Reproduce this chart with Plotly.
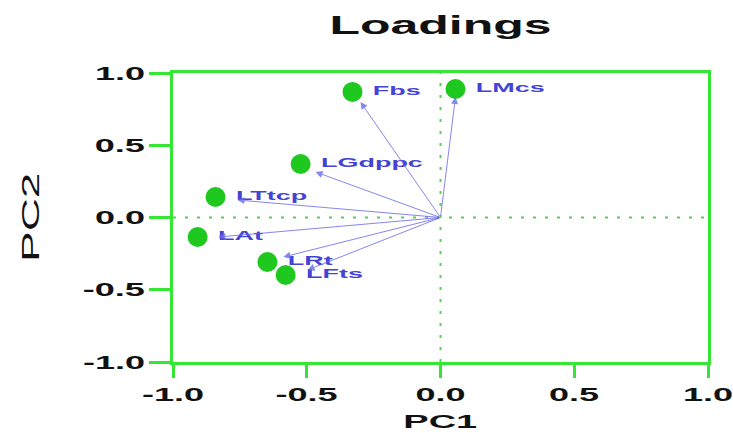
import plotly.graph_objects as go

# ---- data ----
variables = ["Fbs", "LMcs", "LGdppc", "LTtcp", "LAt", "LRt", "LFts"]
pc1_point = [-0.329, 0.056, -0.523, -0.841, -0.908, -0.647, -0.579]
pc2_point = [0.869, 0.889, 0.370, 0.142, -0.135, -0.308, -0.398]
pc1_arrow = [-0.299, 0.056, -0.467, -0.759, -0.830, -0.587, -0.497]
pc2_arrow = [0.799, 0.834, 0.315, 0.121, -0.135, -0.273, -0.363]
tick_vals = [-1.0, -0.5, 0.0, 0.5, 1.0]
tick_text = ["-1.0", "-0.5", "0.0", "0.5", "1.0"]

GREEN_AX = "#35e635"
GREEN_PT = "#1fc81f"
GREEN_DOT = "#4cd84c"
BLUE_TXT = "#4444d4"
BLUE_ARR = "rgba(105,105,235,0.8)"
FONT = "Liberation Sans, Arial, sans-serif"

fig = go.Figure()

# green loading points
fig.add_trace(go.Scatter(
    x=pc1_point, y=pc2_point, mode="markers",
    marker=dict(size=20, color=GREEN_PT, line=dict(width=0)),
    hoverinfo="skip", showlegend=False))

# labels
fig.add_trace(go.Scatter(
    x=pc1_point, y=pc2_point, mode="markers+text",
    text=variables, textposition="middle right",
    textfont=dict(family=FONT, size=13.5, color=BLUE_TXT, weight="bold"),
    marker=dict(size=31, opacity=0),
    hoverinfo="skip", showlegend=False))

# dotted zero lines
fig.add_shape(type="line", x0=0, x1=0, y0=-1, y1=1, xref="x", yref="y",
              line=dict(color=GREEN_DOT, width=2, dash="3px,9px"), layer="below")
fig.add_shape(type="line", x0=-1, x1=1, y0=0, y1=0, xref="x", yref="y",
              line=dict(color=GREEN_DOT, width=2, dash="3px,9px"), layer="below")

# arrows from origin
for xa, ya in zip(pc1_arrow, pc2_arrow):
    fig.add_annotation(x=xa, y=ya, ax=0, ay=0, xref="x", yref="y",
                       axref="x", ayref="y", text="", showarrow=True,
                       arrowhead=2, arrowsize=1.4, arrowwidth=1,
                       arrowcolor=BLUE_ARR, standoff=0, startstandoff=0)

# axis titles
fig.add_annotation(text="<b>PC1</b>", xref="paper", yref="paper", x=0.5, y=-0.205,
                   xanchor="center", yanchor="middle", showarrow=False,
                   font=dict(family=FONT, size=19, color="#111111"))
fig.add_annotation(text="PC2", xref="paper", yref="paper", x=-0.267, y=0.5,
                   xanchor="center", yanchor="middle", textangle=-90, showarrow=False,
                   font=dict(family=FONT, size=23, color="#111111"))

axis_common = dict(
    range=[-1, 1], tickmode="array", tickvals=tick_vals, ticktext=tick_text,
    showline=True, linecolor=GREEN_AX, linewidth=3, mirror=True,
    ticks="outside", tickcolor=GREEN_AX, tickwidth=3,
    showgrid=False, zeroline=False,
    tickfont=dict(family=FONT, size=19, color="#111111", weight="bold"),
)

fig.update_layout(
    width=733, height=433,
    margin=dict(l=173, r=25, t=73, b=71),
    paper_bgcolor="white", plot_bgcolor="white",
    title=dict(text="<b>Loadings</b>", x=0.5, xref="paper", xanchor="center",
               y=1 - 25 / 433, yref="container", yanchor="middle",
               font=dict(family=FONT, size=25, color="#111111")),
    xaxis=dict(**axis_common, ticklen=13),
    yaxis=dict(**axis_common, ticklen=21),
)

# remove the page's default body margin; the reference's lettering is
# horizontally stretched (~2x), so reproduce that on every text
post = """
document.body.style.margin = '0';
document.body.style.overflow = 'hidden';
var gd = document.getElementById('{plot_id}');
gd.querySelectorAll('svg text').forEach(function(t){
  var r = t.getBoundingClientRect();
  if (r.width < 1) return;
  var g = t.parentNode;
  var isTick = g && g.classList && (g.classList.contains('xtick') || g.classList.contains('ytick'));
  var SX = isTick ? 1.9 : 2.0;
  var anc = t.getAttribute('text-anchor') || 'start';
  var sx;
  if (anc === 'start') sx = r.left; else if (anc === 'end') sx = r.right; else sx = r.left + r.width/2;
  var sy = r.top + r.height/2;
  var svg = t.ownerSVGElement;
  var pt = svg.createSVGPoint(); pt.x = sx; pt.y = sy;
  var p = pt.matrixTransform(t.parentNode.getScreenCTM().inverse());
  var old = t.getAttribute('transform') || '';
  t.setAttribute('transform', 'translate(' + p.x + ',' + p.y + ') scale(' + SX + ',1) translate(' + (-p.x) + ',' + (-p.y) + ') ' + old);
});
"""

fig.write_html("out.html", post_script=post, config={"responsive": False, "displayModeBar": False})
